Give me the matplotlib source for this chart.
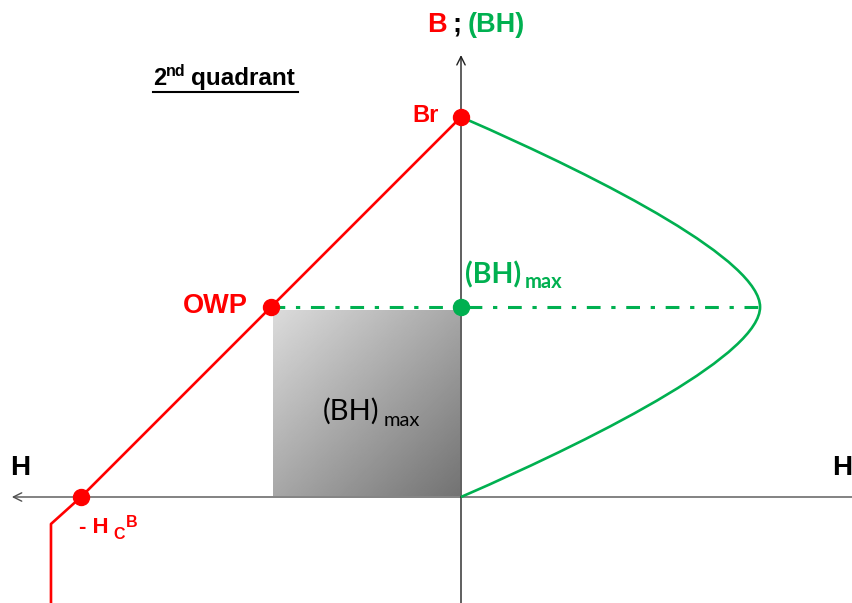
import numpy as np
import matplotlib
matplotlib.use('Agg')
import matplotlib.pyplot as plt
from matplotlib.path import Path
from matplotlib.patches import PathPatch

# values in units where Br = 1 and Hc = 1
Br = 1.0
Hc = 1.0
owp = (-0.5, 0.5)
bhmax_B = 0.5
bhmax_x = 0.787

# demagnetisation curve (H, B) incl. knee at the lower left
red_H = [0.0, -0.5, -1.0, -1.079, -1.079]
red_B = [1.0, 0.5, 0.0, -0.071, -0.30]

# (BH) product curve, as two cubic bezier pieces (end points + control points)
bh_x = [0.0, 0.40, bhmax_x, bhmax_x, bhmax_x, 0.40, 0.0]
bh_B = [Br, 0.826, 0.62, bhmax_B, 0.38, 0.174, 0.0]

RED = '#ff0000'
GREEN = '#00b050'
BOLD = 'Liberation Sans'
SOFT = 'Lato'

fig = plt.figure(figsize=(8.53, 6.03), dpi=100)
ax = fig.add_axes([0, 0, 1, 1])
ax.axis('off')
ax.set_xlim(-461 / 380, 392 / 380)
ax.set_ylim(-106 / 380, 497 / 380)

# axes with open arrow heads
ax.annotate('', xy=(-1.182, 0), xytext=(1.04, 0),
            arrowprops=dict(arrowstyle='->,head_length=0.6,head_width=0.3', lw=1.0,
                            color='#505050', shrinkA=0, shrinkB=0))
ax.annotate('', xy=(0, 1.163), xytext=(0, -0.30),
            arrowprops=dict(arrowstyle='->,head_length=0.6,head_width=0.3', lw=1.0,
                            color='#202020', shrinkA=0, shrinkB=0))

# grey gradient square = (BH)max area
nx = 200
u = np.linspace(0, 1, nx)
grad = 0.86 - 0.41 * (u[None, :] + u[:, None]) / 2
ax.imshow(grad, cmap='gray', vmin=0, vmax=1, extent=[-0.495, -0.005, 0.003, 0.492],
          origin='upper', aspect='auto', zorder=1, interpolation='bilinear')

# dash-dot line at B of (BH)max
ax.plot([owp[0], bhmax_x], [bhmax_B, bhmax_B], color=GREEN, lw=2.2,
        dashes=(4.5, 3.5, 1.4, 3.5), zorder=2)

ax.plot(red_H, red_B, color=RED, lw=1.9, zorder=3)

codes = [Path.MOVETO] + [Path.CURVE4] * 6
bh_path = Path(np.column_stack([bh_x, bh_B]), codes)
ax.add_patch(PathPatch(bh_path, facecolor='none', edgecolor=GREEN, lw=1.9, zorder=3))

ax.plot([0, owp[0], -Hc], [Br, owp[1], 0], 'o', color=RED, ms=11.5, zorder=5)
ax.plot([0], [bhmax_B], 'o', color=GREEN, ms=11.5, zorder=5)

# labels
ax.text(-0.0895, 1.224, 'B', color=RED, fontsize=19.5, fontweight='bold', family=BOLD, va='baseline')
ax.text(-0.022, 1.224, ';', color='black', fontsize=19.5, fontweight='bold', family=BOLD, va='baseline')
ax.text(0.0184, 1.224, '(BH)', color=GREEN, fontsize=19.5, fontweight='bold', family=BOLD, va='baseline')

ax.text(-0.8105, 1.084, '2', color='black', fontsize=17, fontweight='bold', family=BOLD, va='baseline')
ax.text(-0.776, 1.108, 'nd', color='black', fontsize=11.5, fontweight='bold', family=BOLD, va='baseline')
ax.text(-0.7105, 1.084, 'quadrant', color='black', fontsize=17.5, fontweight='bold', family=BOLD, va='baseline')
ax.plot([-0.8105, -0.4289], [1.066, 1.066], color='black', lw=1.5)

ax.text(-0.0579, 0.987, 'Br', color=RED, fontsize=17, fontweight='bold', family=BOLD, ha='right', va='baseline')
ax.text(-0.5605, 0.484, 'OWP', color=RED, fontsize=19.5, fontweight='bold', family=BOLD, ha='right', va='baseline')

ax.text(0.0105, 0.563, '(BH)', color=GREEN, fontsize=20.5, fontweight='bold', family=SOFT, va='baseline')
ax.text(0.168, 0.551, 'max', color=GREEN, fontsize=14.5, fontweight='bold', family=SOFT, va='baseline')

ax.text(-0.363, 0.2026, '(BH)', color='black', fontsize=21, family=SOFT, va='baseline')
ax.text(-0.2026, 0.187, 'max', color='black', fontsize=14.5, family=SOFT, va='baseline')

ax.text(-1.187, 0.058, 'H', color='black', fontsize=20, fontweight='bold', family=BOLD, va='baseline')
ax.text(1.029, 0.058, 'H', color='black', fontsize=20, fontweight='bold', family=BOLD, ha='right', va='baseline')

ax.text(-1.005, -0.0947, '- H', color=RED, fontsize=16, fontweight='bold', family=BOLD, va='baseline')
ax.text(-0.916, -0.1105, 'C', color=RED, fontsize=11.5, fontweight='bold', family=BOLD, va='baseline')
ax.text(-0.882, -0.079, 'B', color=RED, fontsize=11.5, fontweight='bold', family=BOLD, va='baseline')

fig.savefig('out.png', dpi=100)
